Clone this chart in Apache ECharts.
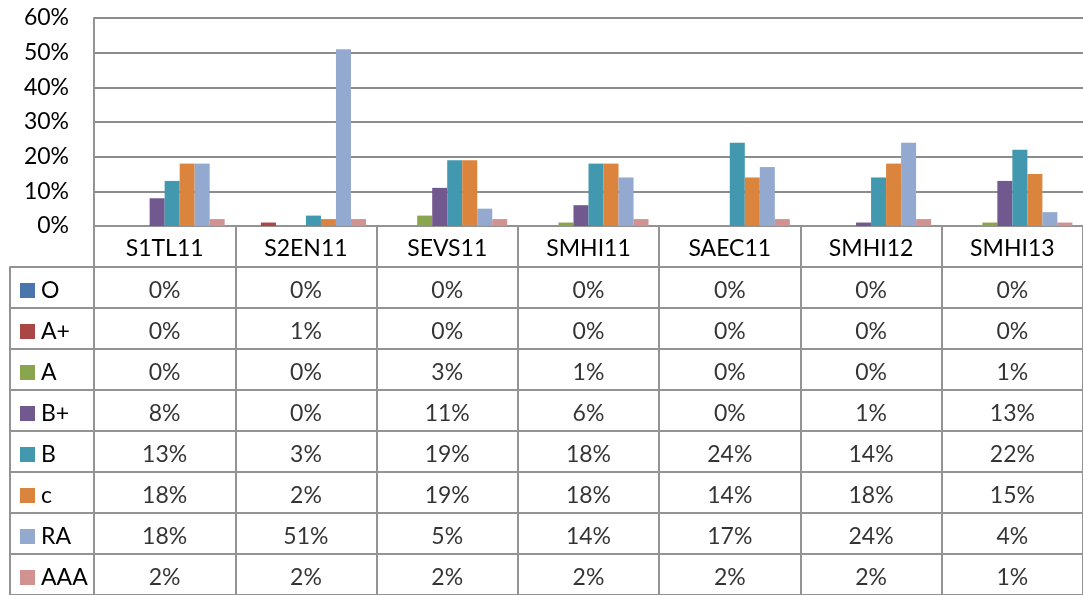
<!DOCTYPE html>
<html>
<head>
<meta charset="utf-8">
<script src="https://cdn.jsdelivr.net/npm/echarts@6/dist/echarts.min.js"></script>
<style>
  html, body { margin: 0; padding: 0; background: #fff; }
  #chart { width: 1083px; height: 595px; }
</style>
</head>
<body>
<div id="chart"></div>
<script>
const categories = ['S1TL11', 'S2EN11', 'SEVS11', 'SMHI11', 'SAEC11', 'SMHI12', 'SMHI13'];
const seriesNames = ['O', 'A+', 'A', 'B+', 'B', 'c', 'RA', 'AAA'];
const seriesColors = ['#4a76ad', '#aa4643', '#89a54e', '#71588f', '#4198af', '#db843d', '#93a9cf', '#d19392'];

const valO = [0, 0, 0, 0, 0, 0, 0];
const valAPlus = [0, 1, 0, 0, 0, 0, 0];
const valA = [0, 0, 3, 1, 0, 0, 1];
const valBPlus = [8, 0, 11, 6, 0, 1, 13];
const valB = [13, 3, 19, 18, 24, 14, 22];
const valC = [18, 2, 19, 18, 14, 18, 15];
const valRA = [18, 51, 5, 14, 17, 24, 4];
const valAAA = [2, 2, 2, 2, 2, 2, 1];
const seriesValues = [valO, valAPlus, valA, valBPlus, valB, valC, valRA, valAAA];

const yTicks = [0, 10, 20, 30, 40, 50, 60];

const font = 'Lato, "Open Sans", sans-serif';
const fontSize = 23;
const lineColor = '#939393';
const rowTop = 267;
const rowHeight = 41.6;

const chart = echarts.init(document.getElementById('chart'));

// colored squares for the name column
const rich = { n: { fontFamily: font, fontSize, color: '#000', padding: [0, 0, 0, 6] } };
seriesColors.forEach((c, i) => {
  rich['s' + i] = { width: 15, height: 15, backgroundColor: c };
});

const barSeries = seriesNames.map((name, i) => ({
  name,
  type: 'bar',
  xAxisIndex: 0,
  yAxisIndex: 0,
  barGap: 0,
  barCategoryGap: '15%',
  itemStyle: { color: seriesColors[i] },
  data: seriesValues[i],
}));

const cellData = [];
seriesNames.forEach((name, i) => {
  categories.forEach((cat, j) => {
    cellData.push([cat, name, seriesValues[i][j]]);
  });
});

chart.setOption({
  backgroundColor: '#fff',
  animation: false,
  grid: [
    { left: 94, width: 994, top: 18, height: 208 },
    { left: 94, width: 994, top: rowTop, height: rowHeight * 8 },
    { left: 10, width: 84, top: rowTop, height: rowHeight * 8 },
  ],
  xAxis: [
    {
      gridIndex: 0,
      type: 'category',
      data: categories,
      axisLine: { lineStyle: { color: lineColor, width: 2 } },
      axisTick: { show: true, length: 380, interval: 0, lineStyle: { color: lineColor, width: 2 } },
      axisLabel: { color: '#000', fontFamily: font, fontSize, margin: 11, interval: 0 },
    },
    {
      gridIndex: 1,
      type: 'category',
      data: categories,
      show: false,
    },
    {
      gridIndex: 2,
      type: 'value',
      show: false,
    },
  ],
  yAxis: [
    {
      gridIndex: 0,
      type: 'value',
      min: yTicks[0],
      max: yTicks[yTicks.length - 1],
      interval: 10,
      axisLine: { show: true, lineStyle: { color: lineColor, width: 2 } },
      axisTick: { show: false },
      splitLine: { lineStyle: { color: '#8c8c8c', width: 2 } },
      axisLabel: { color: '#000', fontFamily: font, fontSize, margin: 25, formatter: '{value}%' },
    },
    {
      gridIndex: 1,
      type: 'category',
      inverse: true,
      data: seriesNames,
      axisLine: { show: false },
      axisTick: { show: false },
      axisLabel: { show: false },
      splitLine: { show: true, lineStyle: { color: lineColor, width: 2 } },
    },
    {
      gridIndex: 2,
      type: 'category',
      inverse: true,
      data: seriesNames,
      axisLine: { show: true, lineStyle: { color: lineColor, width: 2 } },
      axisTick: { show: false },
      splitLine: { show: true, lineStyle: { color: lineColor, width: 2 } },
      axisLabel: {
        inside: true,
        margin: 10,
        align: 'left',
        padding: [6, 0, 0, 0],
        formatter: (v, i) => '{s' + i + '|}{n|' + v + '}',
        rich,
      },
    },
  ],
  series: [
    ...barSeries,
    {
      type: 'scatter',
      xAxisIndex: 1,
      yAxisIndex: 1,
      symbolSize: 1,
      itemStyle: { color: 'rgba(0,0,0,0)' },
      label: {
        show: true,
        position: 'inside',
        offset: [0, 3],
        color: '#000',
        fontFamily: font,
        fontSize,
        formatter: (p) => p.value[2] + '%',
      },
      data: cellData,
    },
  ],
});
</script>
</body>
</html>
